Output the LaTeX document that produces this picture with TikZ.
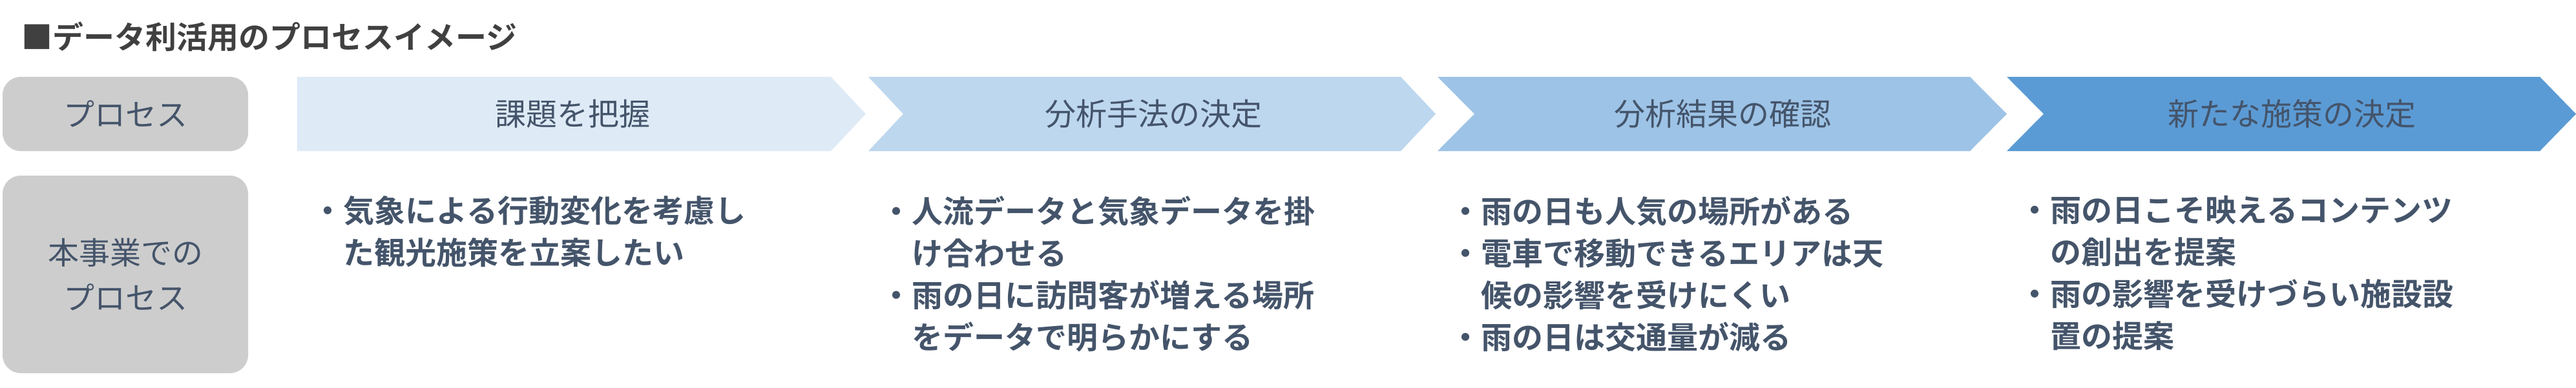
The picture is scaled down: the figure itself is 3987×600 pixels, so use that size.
\documentclass[tikz,border=0pt]{standalone}
\usepackage{fontspec}
\setmainfont{Noto Sans CJK JP}
\newfontfamily\jpb{Noto Sans CJK JP Bold}
\definecolor{txt}{HTML}{44546A}
\definecolor{gbox}{HTML}{CDCDCD}
\definecolor{cA}{HTML}{DEEAF6}
\definecolor{cB}{HTML}{BDD7EE}
\definecolor{cC}{HTML}{9DC3E6}
\definecolor{cD}{HTML}{5B9BD5}
\begin{document}
\begin{tikzpicture}[x=1pt,y=-1pt,
  hdr/.style={font=\fontsize{48}{58}\selectfont, text=txt},
  body/.style={font=\jpb\fontsize{48}{65}\selectfont, text=txt, anchor=north west, align=left},
  gb/.style={fill=gbox, rounded corners=28pt, draw=none}]
\useasboundingbox (0,0) rectangle (3987,600);
\node[anchor=west, font=\jpb\fontsize{48}{58}\selectfont, text=black!75] (title) at (30,57) {■データ利活用のプロセスイメージ};
% left boxes
\fill[gb] (4,119) rectangle (384,234);
\node[hdr] (p1) at (194,176) {プロセス};
\fill[gb] (4,272) rectangle (384,578);
\node[hdr, align=center, font=\fontsize{48}{70}\selectfont] (p2) at (194,425) {本事業での\\プロセス};
% chevrons
\fill[cA] (460,119) -- (1286,119) -- (1340,176.5) -- (1286,234) -- (460,234) -- cycle;
\fill[cB] (1344,119) -- (2168,119) -- (2222,176.5) -- (2168,234) -- (1344,234) -- (1398,176.5) -- cycle;
\fill[cC] (2225,119) -- (3049,119) -- (3106,176.5) -- (3049,234) -- (2225,234) -- (2282,176.5) -- cycle;
\fill[cD] (3106,119) -- (3931,119) -- (3987,176.5) -- (3931,234) -- (3106,234) -- (3163,176.5) -- cycle;
\node[hdr] (h1) at (886,176) {課題を把握};
\node[hdr] (h2) at (1785,176) {分析手法の決定};
\node[hdr] (h3) at (2666,176) {分析結果の確認};
\node[hdr] (h4) at (3547,176) {新たな施策の決定};
% bodies
\node[body] (b1) at (480,300) {・気象による行動変化を考慮し\\\hspace*{1em}た観光施策を立案したい};
\node[body] (b2) at (1360,300) {・人流データと気象データを掛\\\hspace*{1em}け合わせる\\・雨の日に訪問客が増える場所\\\hspace*{1em}をデータで明らかにする};
\node[body] (b3) at (2241,300) {・雨の日も人気の場所がある\\・電車で移動できるエリアは天\\\hspace*{1em}候の影響を受けにくい\\・雨の日は交通量が減る};
\node[body] (b4) at (3122,300) {・雨の日こそ映えるコンテンツ\\\hspace*{1em}の創出を提案\\・雨の影響を受けづらい施設設\\\hspace*{1em}置の提案};
\end{tikzpicture}
\end{document}
